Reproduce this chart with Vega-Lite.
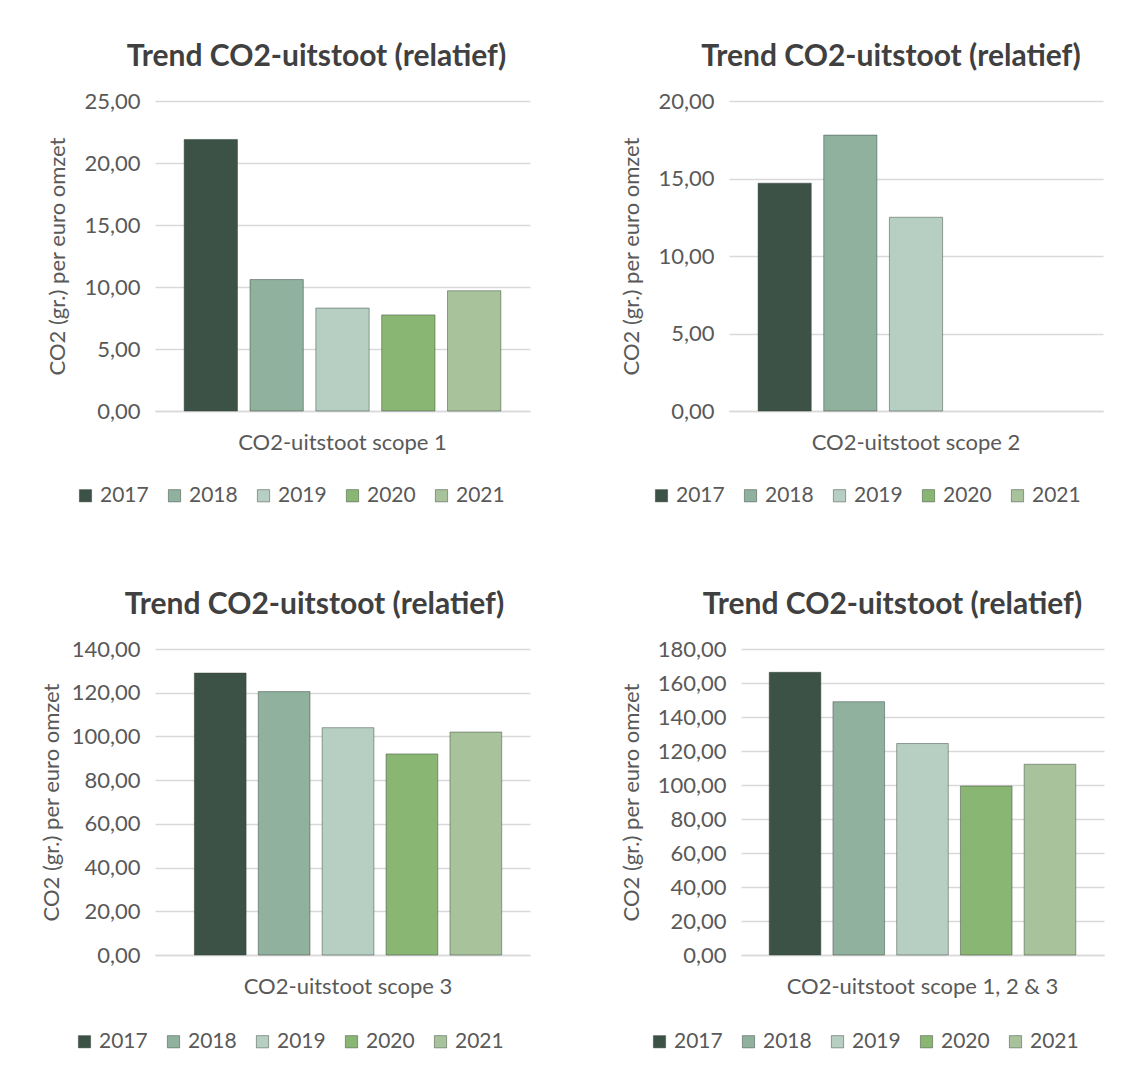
{
  "$schema": "https://vega.github.io/schema/vega-lite/v6.json",
  "padding": {"left": 40, "top": 42, "right": 5, "bottom": 5},
  "background": "white",
  "datasets": {
    "co2": [
      {"scope": "CO2-uitstoot scope 1", "year": "2017", "value": 21.9},
      {"scope": "CO2-uitstoot scope 1", "year": "2018", "value": 10.6},
      {"scope": "CO2-uitstoot scope 1", "year": "2019", "value": 8.3},
      {"scope": "CO2-uitstoot scope 1", "year": "2020", "value": 7.75},
      {"scope": "CO2-uitstoot scope 1", "year": "2021", "value": 9.7},
      {"scope": "CO2-uitstoot scope 2", "year": "2017", "value": 14.7},
      {"scope": "CO2-uitstoot scope 2", "year": "2018", "value": 17.8},
      {"scope": "CO2-uitstoot scope 2", "year": "2019", "value": 12.5},
      {"scope": "CO2-uitstoot scope 3", "year": "2017", "value": 129},
      {"scope": "CO2-uitstoot scope 3", "year": "2018", "value": 120.5},
      {"scope": "CO2-uitstoot scope 3", "year": "2019", "value": 104},
      {"scope": "CO2-uitstoot scope 3", "year": "2020", "value": 92},
      {"scope": "CO2-uitstoot scope 3", "year": "2021", "value": 102},
      {"scope": "CO2-uitstoot scope 1, 2 & 3", "year": "2017", "value": 166.3},
      {"scope": "CO2-uitstoot scope 1, 2 & 3", "year": "2018", "value": 149},
      {"scope": "CO2-uitstoot scope 1, 2 & 3", "year": "2019", "value": 124.4},
      {"scope": "CO2-uitstoot scope 1, 2 & 3", "year": "2020", "value": 99.4},
      {"scope": "CO2-uitstoot scope 1, 2 & 3", "year": "2021", "value": 112.2}
    ]
  },
  "config": {
    "font": "Lato",
    "view": {"stroke": null},
    "title": {"fontSize": 30, "fontWeight": "bold", "color": "#404040", "offset": 18, "anchor": "middle"},
    "axis": {
      "labelFont": "Lato", "labelFontSize": 22, "labelColor": "#595959", "labelLimit": 0,
      "titleFont": "Lato", "titleFontSize": 22, "titleColor": "#595959", "titleFontWeight": "normal",
      "gridColor": "#d9d9d9", "gridWidth": 1.5, "domainColor": "#d9d9d9", "domainWidth": 1.5, "ticks": false
    },
    "legend": {
      "labelFont": "Lato", "labelFontSize": 21, "labelColor": "#595959", "labelOffset": 4,
      "symbolType": "square", "symbolSize": 150, "symbolStrokeWidth": 0,
      "orient": "none", "direction": "horizontal", "columnPadding": 15
    },
    "bar": {"stroke": "#2f3b33", "strokeOpacity": 0.45, "strokeWidth": 1}
  },
  "resolve": {"scale": {"color": "independent", "xOffset": "independent", "x": "independent", "y": "independent"}, "legend": {"color": "independent"}},
  "columns": 2,
  "align": "none",
  "spacing": {"row": 84, "column": 90},
  "concat": [
    {
      "title": {"text": "Trend CO2-uitstoot (relatief)", "dx": -26},
      "width": 375, "height": 310,
      "data": {"name": "co2"},
      "transform": [{"filter": "datum.scope === 'CO2-uitstoot scope 1'"}],
      "mark": {"type": "bar"},
      "encoding": {
        "x": {"field": "scope", "type": "nominal", "title": null,
              "scale": {"paddingInner": 0, "paddingOuter": 0.08},
              "axis": {"labelAngle": 0, "labelPadding": 21, "domain": true}},
        "xOffset": {"field": "year", "type": "nominal",
                    "scale": {"domain": ["2017", "2018", "2019", "2020", "2021"], "paddingInner": 0.19, "paddingOuter": 0.05}},
        "y": {"field": "value", "type": "quantitative", "title": "CO2 (gr.) per euro omzet",
              "scale": {"domain": [0, 25]},
              "axis": {"values": [0, 5, 10, 15, 20, 25], "labelExpr": "replace(format(datum.value, '.2f'), '.', ',')", "domain": false, "labelPadding": 15, "titlePadding": 14}},
        "color": {"field": "year", "type": "nominal", "title": null,
                  "scale": {"domain": ["2017", "2018", "2019", "2020", "2021"], "range": ["#3d5246", "#8fb19e", "#b7cfc2", "#8ab673", "#a8c39b"]},
                  "legend": {"legendX": -80, "legendY": 384}}
      }
    },
    {
      "title": {"text": "Trend CO2-uitstoot (relatief)", "dx": -25},
      "width": 374, "height": 310,
      "data": {"name": "co2"},
      "transform": [{"filter": "datum.scope === 'CO2-uitstoot scope 2'"}],
      "mark": {"type": "bar"},
      "encoding": {
        "x": {"field": "scope", "type": "nominal", "title": null,
              "scale": {"paddingInner": 0, "paddingOuter": 0.08},
              "axis": {"labelAngle": 0, "labelPadding": 21, "domain": true}},
        "xOffset": {"field": "year", "type": "nominal",
                    "scale": {"domain": ["2017", "2018", "2019", "2020", "2021"], "paddingInner": 0.19, "paddingOuter": 0.05}},
        "y": {"field": "value", "type": "quantitative", "title": "CO2 (gr.) per euro omzet",
              "scale": {"domain": [0, 20]},
              "axis": {"values": [0, 5, 10, 15, 20], "labelExpr": "replace(format(datum.value, '.2f'), '.', ',')", "domain": false, "labelPadding": 15, "titlePadding": 14}},
        "color": {"field": "year", "type": "nominal", "title": null,
                  "scale": {"domain": ["2017", "2018", "2019", "2020", "2021"], "range": ["#3d5246", "#8fb19e", "#b7cfc2", "#8ab673", "#a8c39b"]},
                  "legend": {"legendX": -78, "legendY": 384}}
      }
    },
    {
      "title": {"text": "Trend CO2-uitstoot (relatief)", "dx": -28},
      "width": 375, "height": 306,
      "data": {"name": "co2"},
      "transform": [{"filter": "datum.scope === 'CO2-uitstoot scope 3'"}],
      "mark": {"type": "bar"},
      "encoding": {
        "x": {"field": "scope", "type": "nominal", "title": null,
              "scale": {"paddingInner": 0, "paddingOuter": 0.105, "align": 0.585},
              "axis": {"labelAngle": 0, "labelPadding": 21, "domain": true}},
        "xOffset": {"field": "year", "type": "nominal",
                    "scale": {"domain": ["2017", "2018", "2019", "2020", "2021"], "paddingInner": 0.19, "paddingOuter": 0.02}},
        "y": {"field": "value", "type": "quantitative", "title": "CO2 (gr.) per euro omzet",
              "scale": {"domain": [0, 140]},
              "axis": {"values": [0, 20, 40, 60, 80, 100, 120, 140], "labelExpr": "replace(format(datum.value, '.2f'), '.', ',')", "domain": false, "labelPadding": 15, "titlePadding": 8}},
        "color": {"field": "year", "type": "nominal", "title": null,
                  "scale": {"domain": ["2017", "2018", "2019", "2020", "2021"], "range": ["#3d5246", "#8fb19e", "#b7cfc2", "#8ab673", "#a8c39b"]},
                  "legend": {"legendX": -81, "legendY": 382}}
      }
    },
    {
      "title": {"text": "Trend CO2-uitstoot (relatief)", "dx": -30},
      "width": 363, "height": 306,
      "data": {"name": "co2"},
      "transform": [{"filter": "datum.scope === 'CO2-uitstoot scope 1, 2 & 3'"}],
      "mark": {"type": "bar"},
      "encoding": {
        "x": {"field": "scope", "type": "nominal", "title": null,
              "scale": {"paddingInner": 0, "paddingOuter": 0.08},
              "axis": {"labelAngle": 0, "labelPadding": 21, "domain": true}},
        "xOffset": {"field": "year", "type": "nominal",
                    "scale": {"domain": ["2017", "2018", "2019", "2020", "2021"], "paddingInner": 0.19, "paddingOuter": 0.05}},
        "y": {"field": "value", "type": "quantitative", "title": "CO2 (gr.) per euro omzet",
              "scale": {"domain": [0, 180]},
              "axis": {"values": [0, 20, 40, 60, 80, 100, 120, 140, 160, 180], "labelExpr": "replace(format(datum.value, '.2f'), '.', ',')", "domain": false, "labelPadding": 15, "titlePadding": 14}},
        "color": {"field": "year", "type": "nominal", "title": null,
                  "scale": {"domain": ["2017", "2018", "2019", "2020", "2021"], "range": ["#3d5246", "#8fb19e", "#b7cfc2", "#8ab673", "#a8c39b"]},
                  "legend": {"legendX": -92, "legendY": 382}}
      }
    }
  ]
}
